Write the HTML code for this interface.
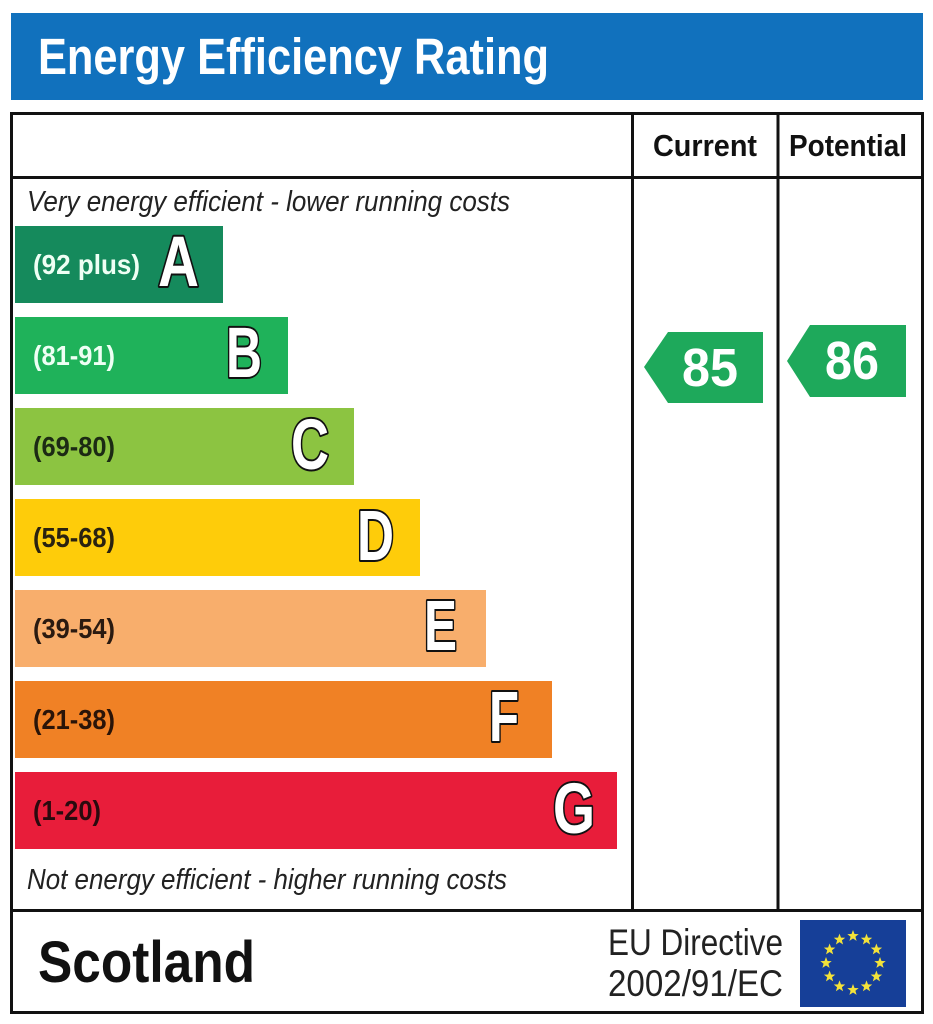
<!DOCTYPE html>
<html>
<head>
<meta charset="utf-8">
<style>
  html, body { margin:0; padding:0; background:#fff; }
  svg { display:block; }
  text { font-family: "Liberation Sans", Arial, sans-serif; }
</style>
</head>
<body>
<svg width="933" height="1024" viewBox="0 0 933 1024" xmlns="http://www.w3.org/2000/svg">
  <defs>
    <polygon id="star" points="0,-6 1.5,-2 5.7,-1.9 2.4,0.8 3.6,4.9 0,2.5 -3.6,4.9 -2.4,0.8 -5.7,-1.9 -1.5,-2" fill="#f3e23a"/>
  </defs>
  <rect x="0" y="0" width="933" height="1024" fill="#fff"/>

  <!-- Header -->
  <rect x="11" y="13" width="912" height="87" fill="#1171bd"/>
  <text x="38" y="74" font-size="51" font-weight="bold" fill="#fff" textLength="511" lengthAdjust="spacingAndGlyphs">Energy Efficiency Rating</text>

  <!-- Table frame -->
  <rect x="11.5" y="113.5" width="911" height="899" fill="none" stroke="#111" stroke-width="3"/>
  <line x1="11" y1="177.5" x2="923" y2="177.5" stroke="#111" stroke-width="3"/>
  <line x1="11" y1="910.5" x2="923" y2="910.5" stroke="#111" stroke-width="3"/>
  <line x1="632.5" y1="113" x2="632.5" y2="910" stroke="#111" stroke-width="3"/>
  <line x1="778" y1="113" x2="778" y2="910" stroke="#111" stroke-width="3"/>

  <!-- Column headers -->
  <text x="653" y="156" font-size="31" font-weight="bold" fill="#111" textLength="104" lengthAdjust="spacingAndGlyphs">Current</text>
  <text x="789" y="156" font-size="31" font-weight="bold" fill="#111" textLength="118" lengthAdjust="spacingAndGlyphs">Potential</text>

  <!-- Top / bottom notes -->
  <text x="27" y="211" font-size="29" font-style="italic" fill="#222" textLength="483" lengthAdjust="spacingAndGlyphs">Very energy efficient - lower running costs</text>
  <text x="27" y="889" font-size="29" font-style="italic" fill="#222" textLength="480" lengthAdjust="spacingAndGlyphs">Not energy efficient - higher running costs</text>

  <!-- Bars -->
  <rect x="15" y="226" width="208" height="77" fill="#158a5c"/>
  <rect x="15" y="317" width="273" height="77" fill="#1fb25a"/>
  <rect x="15" y="408" width="339" height="77" fill="#8cc441"/>
  <rect x="15" y="499" width="405" height="77" fill="#fecc0a"/>
  <rect x="15" y="590" width="471" height="77" fill="#f8ae6c"/>
  <rect x="15" y="681" width="537" height="77" fill="#f08125"/>
  <rect x="15" y="772" width="602" height="77" fill="#e81d3a"/>

  <!-- Range labels -->
  <g font-size="28" font-weight="bold">
    <text x="33" y="274" fill="#eefff4" textLength="107" lengthAdjust="spacingAndGlyphs">(92 plus)</text>
    <text x="33" y="365" fill="#eefff4" textLength="82" lengthAdjust="spacingAndGlyphs">(81-91)</text>
    <text x="33" y="456" fill="#1c2a14" textLength="82" lengthAdjust="spacingAndGlyphs">(69-80)</text>
    <text x="33" y="547" fill="#2a2210" textLength="82" lengthAdjust="spacingAndGlyphs">(55-68)</text>
    <text x="33" y="638" fill="#2a1a10" textLength="82" lengthAdjust="spacingAndGlyphs">(39-54)</text>
    <text x="33" y="729" fill="#2a1408" textLength="82" lengthAdjust="spacingAndGlyphs">(21-38)</text>
    <text x="33" y="820" fill="#2a0a0e" textLength="68" lengthAdjust="spacingAndGlyphs">(1-20)</text>
  </g>

  <!-- Band letters -->
  <g font-size="71" font-weight="bold" fill="#fff" stroke="#111" stroke-width="4" paint-order="stroke" stroke-linejoin="round">
    <text x="158" y="286" textLength="41" lengthAdjust="spacingAndGlyphs">A</text>
    <text x="226" y="377" textLength="36" lengthAdjust="spacingAndGlyphs">B</text>
    <text x="291" y="469" textLength="38" lengthAdjust="spacingAndGlyphs">C</text>
    <text x="357" y="560" textLength="37" lengthAdjust="spacingAndGlyphs">D</text>
    <text x="424" y="650" textLength="33" lengthAdjust="spacingAndGlyphs">E</text>
    <text x="489" y="741" textLength="30" lengthAdjust="spacingAndGlyphs">F</text>
    <text x="553" y="833" textLength="42" lengthAdjust="spacingAndGlyphs">G</text>
  </g>

  <!-- Current arrow -->
  <polygon points="644,367 668,332 763,332 763,403 668,403" fill="#1ea95b"/>
  <text x="682" y="386" font-size="54" font-weight="bold" fill="#fff" textLength="56" lengthAdjust="spacingAndGlyphs">85</text>

  <!-- Potential arrow -->
  <polygon points="787,361 810,325 906,325 906,397 810,397" fill="#1ea95b"/>
  <text x="825" y="379" font-size="54" font-weight="bold" fill="#fff" textLength="54" lengthAdjust="spacingAndGlyphs">86</text>

  <!-- Footer -->
  <text x="38" y="982" font-size="58" font-weight="bold" fill="#111" textLength="217" lengthAdjust="spacingAndGlyphs">Scotland</text>
  <text x="608" y="955" font-size="37" fill="#222" textLength="175" lengthAdjust="spacingAndGlyphs">EU Directive</text>
  <text x="608" y="996" font-size="37" fill="#222" textLength="175" lengthAdjust="spacingAndGlyphs">2002/91/EC</text>

  <!-- EU flag -->
  <rect x="800" y="920" width="106" height="87" fill="#163f98"/>
  <use href="#star" x="853" y="936"/>
  <use href="#star" x="866.5" y="939.6"/>
  <use href="#star" x="876.4" y="949.5"/>
  <use href="#star" x="880" y="963"/>
  <use href="#star" x="876.4" y="976.5"/>
  <use href="#star" x="866.5" y="986.4"/>
  <use href="#star" x="853" y="990"/>
  <use href="#star" x="839.5" y="986.4"/>
  <use href="#star" x="829.6" y="976.5"/>
  <use href="#star" x="826" y="963"/>
  <use href="#star" x="829.6" y="949.5"/>
  <use href="#star" x="839.5" y="939.6"/>
</svg>
</body>
</html>
